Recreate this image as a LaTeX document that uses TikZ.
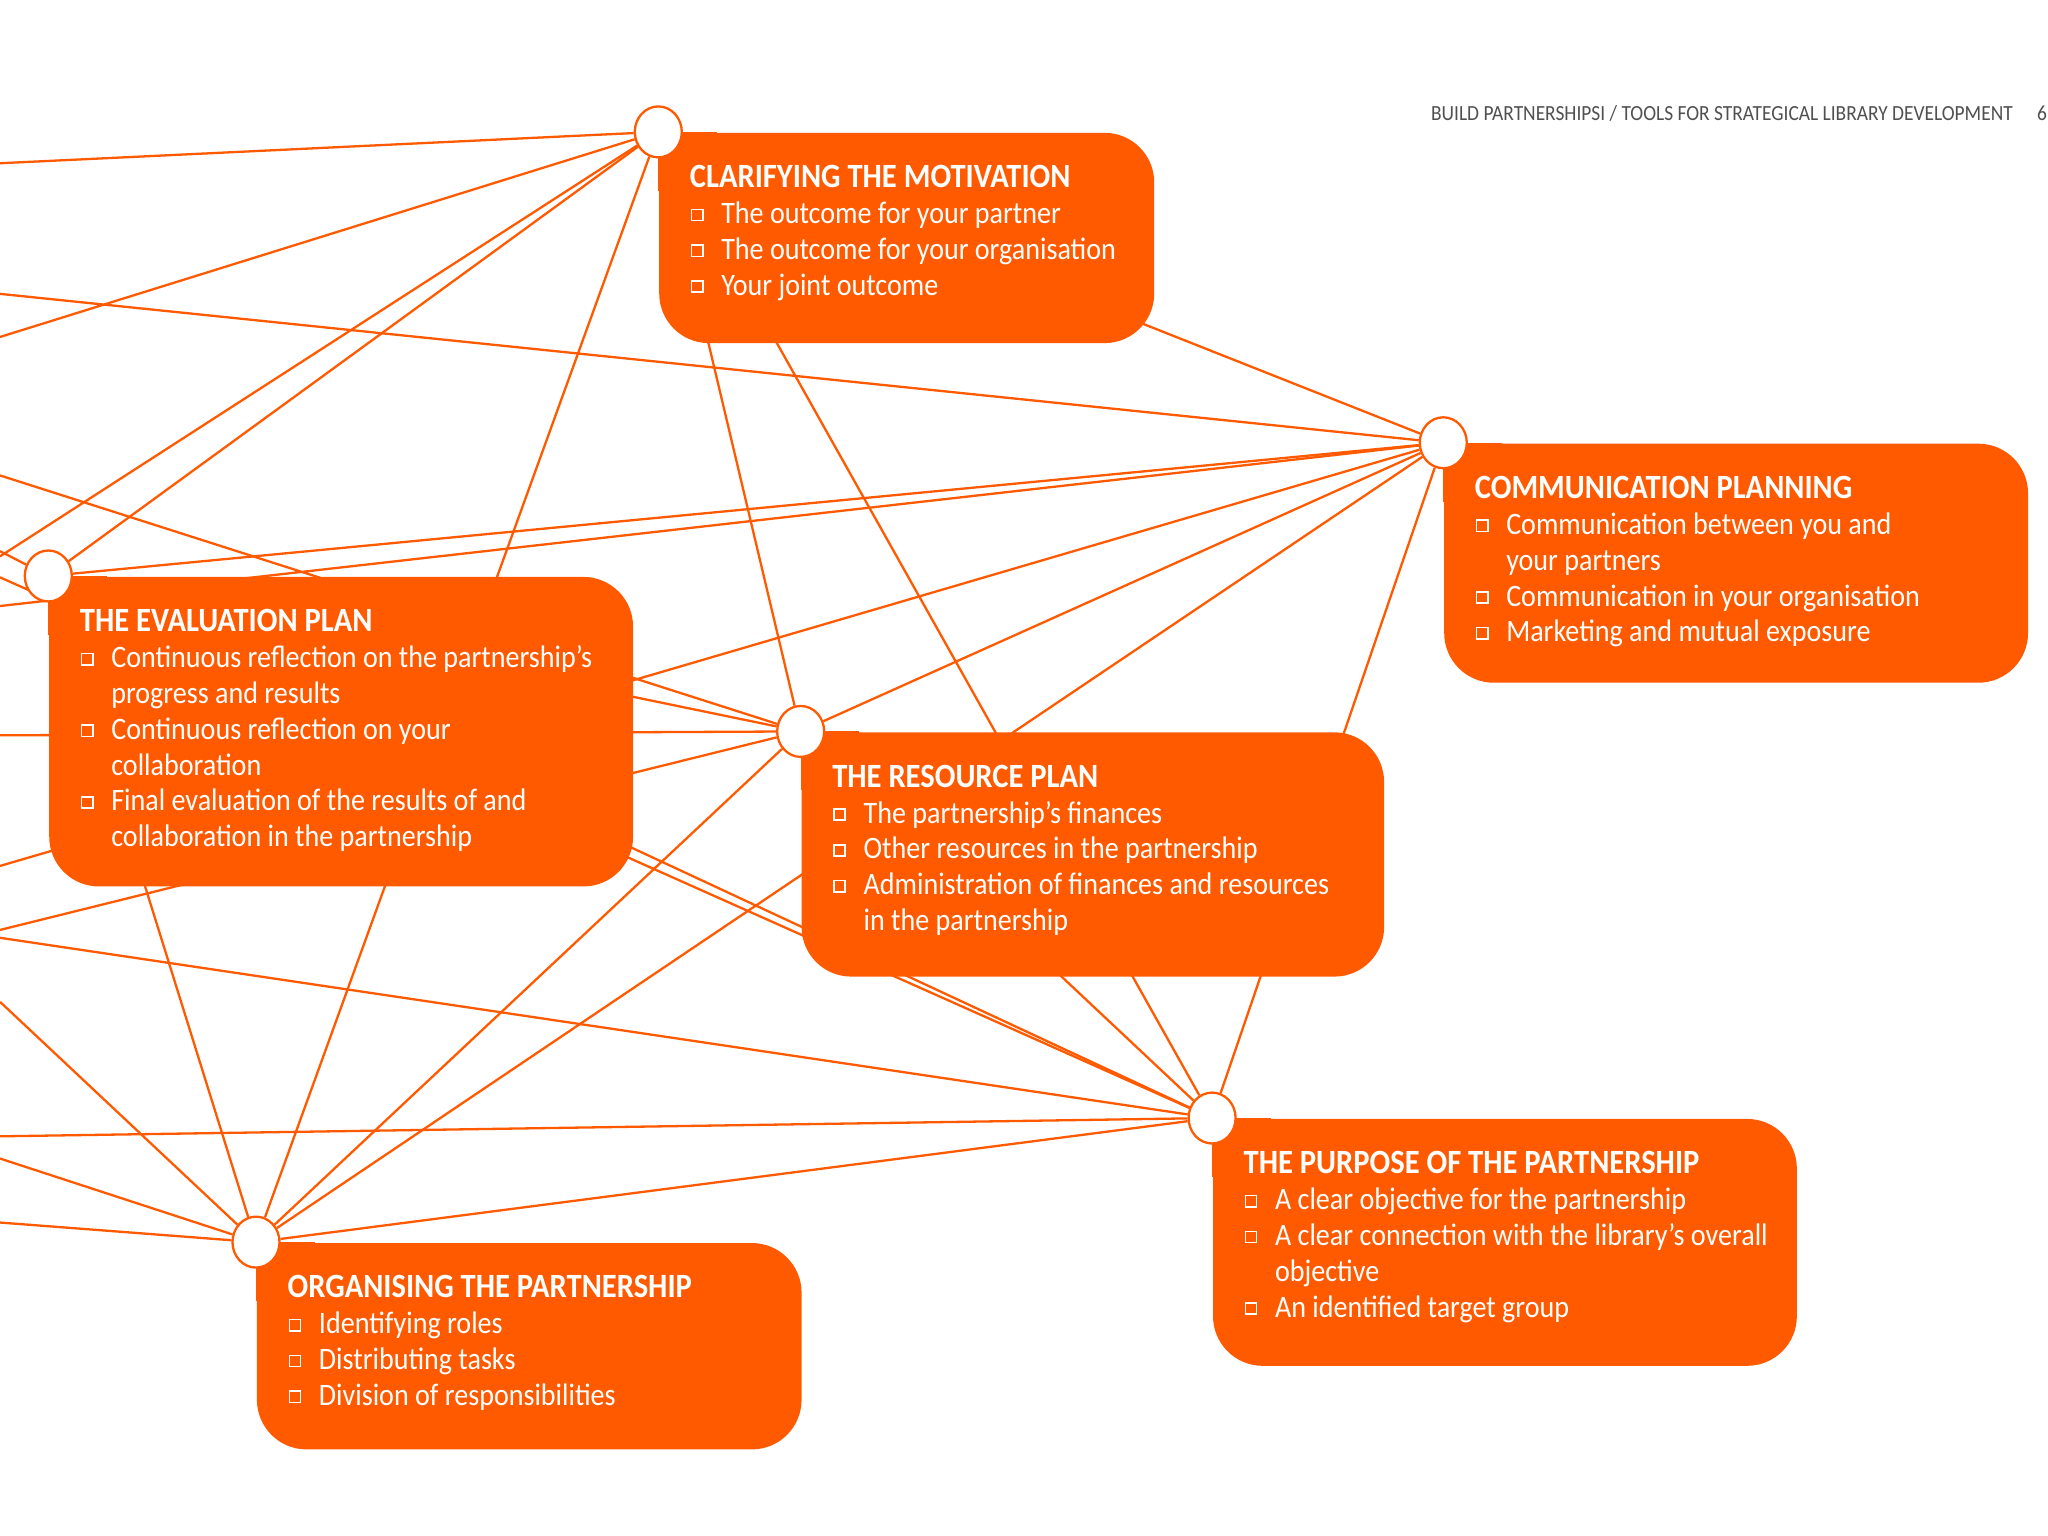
\documentclass[tikz,border=0pt]{standalone}
\usepackage{fontspec}
\setmainfont[FakeStretch=0.9]{Carlito}
\usepackage{tikz}
\usetikzlibrary{shapes.geometric}
\definecolor{webred}{RGB}{255,90,0}
\definecolor{headgray}{RGB}{80,80,80}
\pgfdeclarelayer{paper}
\pgfdeclarelayer{lines}
\pgfsetlayers{paper,lines,main}
\newcommand\tickbox{\raisebox{0.25ex}{\fboxsep=0pt\fboxrule=0.35pt\fbox{\rule{0pt}{2.1pt}\hspace{2.1pt}}}}
\newcommand\entry[1]{\makebox[0.24cm][l]{\hspace{0.2pt}\tickbox}#1}
\newcommand\more[1]{\hspace*{0.24cm}#1}
\newcommand\heading[1]{{\fontsize{7.4}{7.8}\selectfont\bfseries #1}}
\tikzset{
  web/.style={draw=webred, line width=0.5pt},
  hub/.style={ellipse, draw=webred, line width=0.5pt, fill=white,
    minimum width=0.36cm, minimum height=0.39cm, inner sep=0pt},
  panel/.style={fill=webred, rounded corners=0.38cm, anchor=north west, inner sep=0pt},
  paneltext/.style={anchor=north west, text=white, align=left, inner sep=0pt,
    font=\fontsize{6.8}{7.8}\selectfont},
}

\begin{document}
\begin{tikzpicture}[x=1cm,y=-1cm]
\useasboundingbox (0,0) rectangle (15.68,11.76);
\begin{pgfonlayer}{paper}
\fill[white] (0,0) rectangle (15.68,11.76);
\end{pgfonlayer}

% panels
\node[panel, minimum width=3.79cm, minimum height=1.61cm] (pmot) at (5.04,1.01) {};
\node[panel, minimum width=4.47cm, minimum height=1.83cm] (pcom) at (11.05,3.39) {};
\node[panel, minimum width=4.47cm, minimum height=2.37cm] (peval) at (0.37,4.41) {};
\node[panel, minimum width=4.46cm, minimum height=1.87cm] (pres) at (6.13,5.60) {};
\node[panel, minimum width=4.47cm, minimum height=1.89cm] (ppur) at (9.28,8.56) {};
\node[panel, minimum width=4.17cm, minimum height=1.58cm] (porg) at (1.96,9.51) {};
\foreach \p in {pmot,pcom,peval,pres,ppur,porg}
  \fill[webred] (\p.north west) rectangle ++(0.45,0.45);

% hubs
\node[hub] (hmot) at (pmot.north west) {};
\node[hub] (hcom) at (pcom.north west) {};
\node[hub] (heval) at (peval.north west) {};
\node[hub] (hres) at (pres.north west) {};
\node[hub] (hpur) at (ppur.north west) {};
\node[hub] (horg) at (porg.north west) {};

% loose ends on the left edge
\coordinate (w1) at (0,1.25);
\coordinate (w2) at (0,2.25);
\coordinate (w3) at (0,2.58);
\coordinate (w4) at (0,3.64);
\coordinate (w5) at (0,4.42);
\coordinate (w6) at (0,4.26);
\coordinate (w7) at (0,4.22);
\coordinate (w8) at (0,4.64);
\coordinate (w9) at (0,5.63);
\coordinate (w10) at (0,6.63);
\coordinate (w11) at (0,7.12);
\coordinate (w12) at (0,7.18);
\coordinate (w13) at (0,7.67);
\coordinate (w14) at (0,8.70);
\coordinate (w15) at (0,8.87);
\coordinate (w16) at (0,9.36);

\begin{pgfonlayer}{lines}
\draw[web] (hmot) -- (hcom) (hmot) -- (heval) (hmot) -- (hres) (hmot) -- (hpur) (hmot) -- (horg)
           (hcom) -- (heval) (hcom) -- (hres) (hcom) -- (hpur) (hcom) -- (horg)
           (heval) -- (hres) (heval) -- (hpur) (heval) -- (horg)
           (hres) -- (hpur) (hres) -- (horg)
           (hpur) -- (horg);
\draw[web] (hmot) -- (w1) (hmot) -- (w3) (hmot) -- (w6)
           (hcom) -- (w2) (hcom) -- (w8) (hcom) -- (w10)
           (hres) -- (w4) (hres) -- (w9) (hres) -- (w11)
           (hpur) -- (w5) (hpur) -- (w12) (hpur) -- (w14)
           (horg) -- (w13) (horg) -- (w15) (horg) -- (w16)
           (heval) -- (w7);
\end{pgfonlayer}

% texts
\node[paneltext] (tmot) at ([shift={(0.235,0.25)}]pmot.north west)
  {\heading{CLARIFYING THE MOTIVATION}\\
   \entry{The outcome for your partner}\\
   \entry{The outcome for your organisation}\\
   \entry{Your joint outcome}};
\node[paneltext] (tcom) at ([shift={(0.235,0.25)}]pcom.north west)
  {\heading{COMMUNICATION PLANNING}\\
   \entry{Communication between you and}\\
   \more{your partners}\\
   \entry{Communication in your organisation}\\
   \entry{Marketing and mutual exposure}};
\node[paneltext] (teval) at ([shift={(0.235,0.25)}]peval.north west)
  {\heading{THE EVALUATION PLAN}\\
   \entry{Continuous reflection on the partnership’s}\\
   \more{progress and results}\\
   \entry{Continuous reflection on your}\\
   \more{collaboration}\\
   \entry{Final evaluation of the results of and}\\
   \more{collaboration in the partnership}};
\node[paneltext] (tres) at ([shift={(0.235,0.25)}]pres.north west)
  {\heading{THE RESOURCE PLAN}\\
   \entry{The partnership’s finances}\\
   \entry{Other resources in the partnership}\\
   \entry{Administration of finances and resources}\\
   \more{in the partnership}};
\node[paneltext] (tpur) at ([shift={(0.235,0.25)}]ppur.north west)
  {\heading{THE PURPOSE OF THE PARTNERSHIP}\\
   \entry{A clear objective for the partnership}\\
   \entry{A clear connection with the library’s overall}\\
   \more{objective}\\
   \entry{An identified target group}};
\node[paneltext] (torg) at ([shift={(0.235,0.25)}]porg.north west)
  {\heading{ORGANISING THE PARTNERSHIP}\\
   \entry{Identifying roles}\\
   \entry{Distributing tasks}\\
   \entry{Division of responsibilities}};

% running head
\node[anchor=base west, inner sep=0pt, text=headgray, font=\fontsize{4.7}{5.5}\selectfont]
  (runhead) at (10.95,0.92) {BUILD PARTNERSHIPSI / TOOLS FOR STRATEGICAL LIBRARY DEVELOPMENT};
\node[anchor=base west, inner sep=0pt, text=headgray, font=\fontsize{4.7}{5.5}\selectfont]
  (folio) at (15.59,0.92) {6};
\end{tikzpicture}
\end{document}
